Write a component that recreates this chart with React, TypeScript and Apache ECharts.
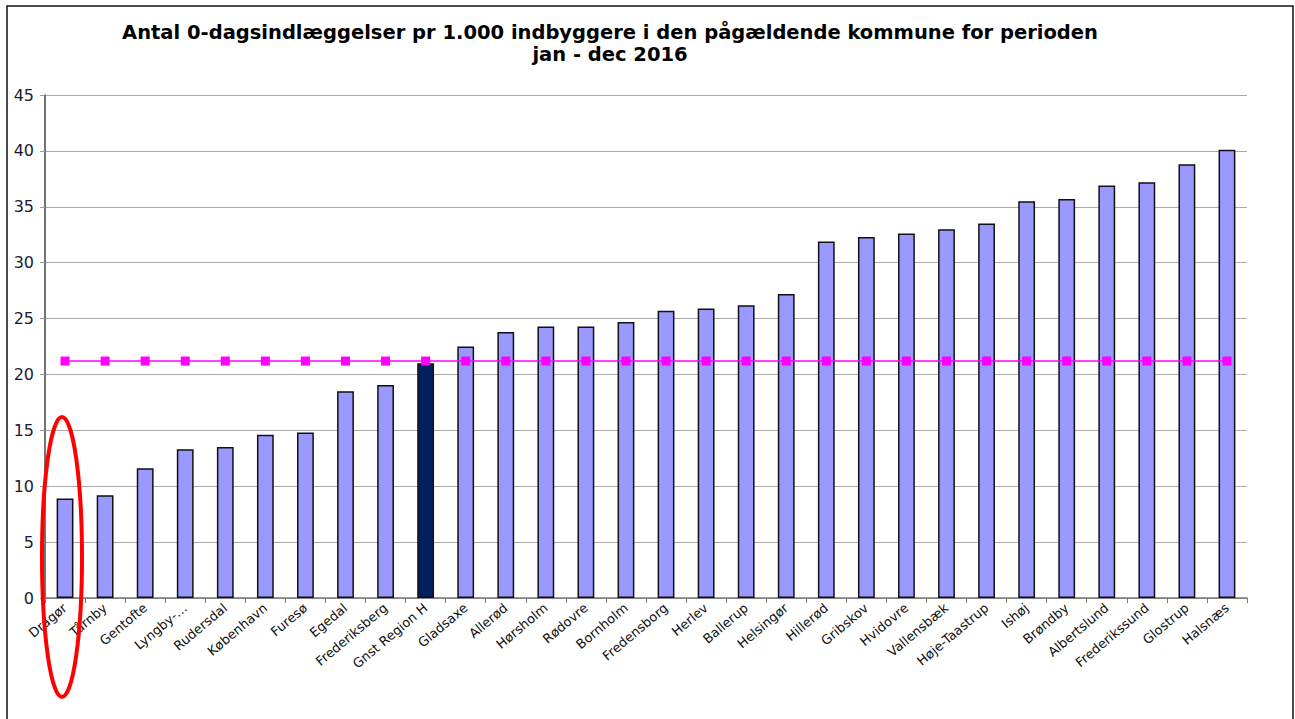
import React, { useEffect, useRef } from "react";
import * as echarts from "echarts";

const titleLines = [
  "Antal 0-dagsindlæggelser pr 1.000 indbyggere i den pågældende kommune for perioden",
  "jan - dec 2016",
];

const categories = [
  "Dragør", "Tårnby", "Gentofte", "Lyngby-…", "Rudersdal", "København", "Furesø",
  "Egedal", "Frederiksberg", "Gnst Region H", "Gladsaxe", "Allerød", "Hørsholm",
  "Rødovre", "Bornholm", "Fredensborg", "Herlev", "Ballerup", "Helsingør",
  "Hillerød", "Gribskov", "Hvidovre", "Vallensbæk", "Høje-Taastrup", "Ishøj",
  "Brøndby", "Albertslund", "Frederikssund", "Glostrup", "Halsnæs",
];

const values = [
  8.9, 9.2, 11.6, 13.3, 13.5, 14.6, 14.8, 18.5, 19.05, 21.0, 22.5, 23.8, 24.3,
  24.3, 24.7, 25.7, 25.9, 26.2, 27.2, 31.9, 32.3, 32.6, 33.0, 33.5, 35.5, 35.7,
  36.9, 37.2, 38.8, 40.1,
];

const averageValue = 21.2;
const highlightCategory = "Gnst Region H";
const yTicks = [0, 5, 10, 15, 20, 25, 30, 35, 40, 45];

const FONT = "'DejaVu Sans', 'Liberation Sans', Arial, sans-serif";

export default function App() {
  const ref = useRef<HTMLDivElement>(null);

  useEffect(() => {
    if (!ref.current) return;
    const chart = echarts.init(ref.current, null, { renderer: "svg" });
    const barData = values.map((v, i) => ({
      value: v,
      itemStyle:
        categories[i] === highlightCategory
          ? { color: "#002060" }
          : undefined,
    }));
    const avgData = categories.map(() => averageValue);

    chart.setOption({
      animation: false,
      backgroundColor: "#ffffff",
      textStyle: { fontFamily: FONT },
      graphic: [
        {
          type: "rect",
          shape: { x: 7, y: 6, width: 1286, height: 730 },
          style: { fill: "none", stroke: "#111", lineWidth: 1.5 },
          silent: true,
          z: 100,
        },
        {
          type: "text",
          x: 610,
          y: 22,
          style: {
            text: titleLines[0],
            font: `bold 19.5px ${FONT}`,
            fill: "#000",
            textAlign: "center",
          },
        },
        {
          type: "text",
          x: 610,
          y: 44,
          style: {
            text: titleLines[1],
            font: `bold 19.5px ${FONT}`,
            fill: "#000",
            textAlign: "center",
          },
        },
        {
          type: "ellipse",
          shape: { cx: 62, cy: 557, rx: 20, ry: 140 },
          style: { fill: "none", stroke: "#ff0000", lineWidth: 4 },
          z: 100,
        },
      ],
      grid: { left: 45, right: 48, top: 95, bottom: 121, containLabel: false },
      xAxis: {
        type: "category",
        data: categories,
        boundaryGap: true,
        axisLine: { lineStyle: { color: "#777", width: 1.5 } },
        axisTick: { show: true, alignWithLabel: false, length: 5, lineStyle: { color: "#777" } },
        axisLabel: {
          rotate: 40,
          interval: 0,
          fontSize: 13,
          fontFamily: FONT,
          color: "#111",
          margin: 8,
        },
      },
      yAxis: {
        type: "value",
        min: yTicks[0],
        max: yTicks[yTicks.length - 1],
        interval: 5,
        axisLine: { show: true, lineStyle: { color: "#444", width: 1.5 } },
        axisTick: { show: true, length: 5, lineStyle: { color: "#999" } },
        axisLabel: { fontSize: 16, fontFamily: FONT, color: "#1a1a33", margin: 11 },
        splitLine: { show: true, lineStyle: { color: "#aaa", width: 1 } },
      },
      series: [
        {
          type: "bar",
          data: barData,
          barWidth: "42%",
          itemStyle: { color: "#9999ff", borderColor: "#111", borderWidth: 1.5 },
        },
        {
          type: "line",
          data: avgData,
          symbol: "rect",
          symbolSize: 9,
          lineStyle: { color: "#ff00ff", width: 1.5 },
          itemStyle: { color: "#ff00ff" },
          z: 5,
        },
      ],
    });
    return () => chart.dispose();
  }, []);

  return (
    <div
      ref={ref}
      style={{ position: "fixed", left: 0, top: 0, width: 1295, height: 719 }}
    />
  );
}
